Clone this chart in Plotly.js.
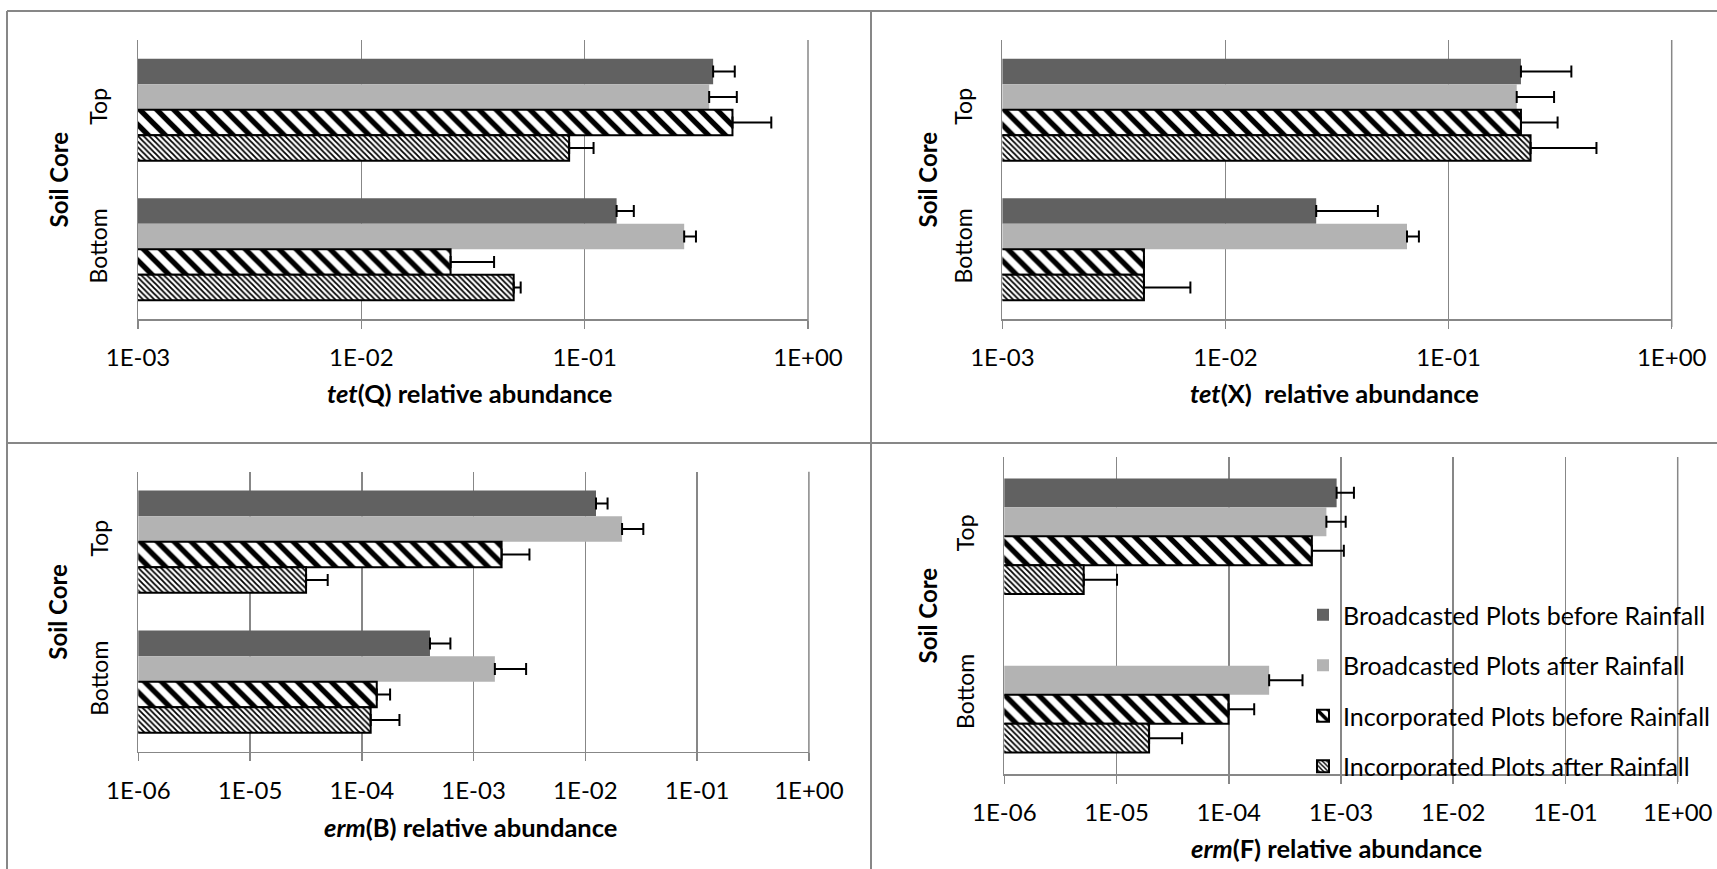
<!DOCTYPE html>
<html>
<head>
<meta charset="utf-8">
<script src="https://cdn.plot.ly/plotly-3.0.1.min.js"></script>
<style>
  html, body { margin: 0; padding: 0; background: #ffffff; }
  #chart { width: 1717px; height: 869px; }
</style>
</head>
<body>
<div id="chart"></div>
<script>
// ---------------- DATA ----------------
const categories = ['Top', 'Bottom'];
const seriesNames = [
  'Broadcasted Plots before Rainfall',
  'Broadcasted Plots after Rainfall',
  'Incorporated Plots before Rainfall',
  'Incorporated Plots after Rainfall'
];

// tet(Q)
const tetQ_BB = [0.376, 0.139];   const tetQ_BB_err = [0.094, 0.027];
const tetQ_BA = [0.361, 0.279];   const tetQ_BA_err = [0.119, 0.036];
const tetQ_IB = [0.459, 0.0251];  const tetQ_IB_err = [0.226, 0.0142];
const tetQ_IA = [0.0852, 0.0481]; const tetQ_IA_err = [0.0244, 0.0036];

// tet(X)
const tetX_BB = [0.211, 0.0255];  const tetX_BB_err = [0.144, 0.0227];
const tetX_BA = [0.202, 0.0651];  const tetX_BA_err = [0.095, 0.0085];
const tetX_IB = [0.211, 0.00431]; const tetX_IB_err = [0.097, 0];
const tetX_IA = [0.233, 0.00431]; const tetX_IA_err = [0.227, 0.00265];

// erm(B)
const ermB_BB = [0.01245, 0.000407]; const ermB_BB_err = [0.00335, 0.000213];
const ermB_BA = [0.0213, 0.00155];   const ermB_BA_err = [0.0117, 0.0014];
const ermB_IB = [0.00178, 0.000136]; const ermB_IB_err = [0.00138, 0.000043];
const ermB_IA = [0.0000317, 0.00012]; const ermB_IA_err = [0.0000178, 0.000097];

// erm(F)
const ermF_BB = [0.000914, null];     const ermF_BB_err = [0.00039, null];
const ermF_BA = [0.000741, 0.000229]; const ermF_BA_err = [0.00036, 0.000225];
const ermF_IB = [0.00055, 0.0000995]; const ermF_IB_err = [0.00051, 0.000069];
const ermF_IA = [0.0000051, 0.0000195]; const ermF_IA_err = [0.000005, 0.0000189];

const tickVals3 = [1e-3, 1e-2, 1e-1, 1];
const tickText3 = ['1E-03', '1E-02', '1E-01', '1E+00'];
const tickVals6 = [1e-6, 1e-5, 1e-4, 1e-3, 1e-2, 1e-1, 1];
const tickText6 = ['1E-06', '1E-05', '1E-04', '1E-03', '1E-02', '1E-01', '1E+00'];

const axisTitles = [
  '<b><i>tet</i>(Q) relative abundance</b>',
  '<b><i>tet</i>(X)  relative abundance</b>',
  '<b><i>erm</i>(B) relative abundance</b>',
  '<b><i>erm</i>(F) relative abundance</b>'
];
const yTitle = '<b>Soil Core</b>';

// ---------------- LAYOUT HELPERS ----------------
const W = 1717, H = 869;
const FONT = 'Lato, "Open Sans", sans-serif';
const GRID = '#878787';
const px = p => p / W;
const py = p => 1 - p / H;

const panels = [
  { series: [[tetQ_BB, tetQ_BB_err], [tetQ_BA, tetQ_BA_err], [tetQ_IB, tetQ_IB_err], [tetQ_IA, tetQ_IA_err]],
    box: { l: 138, r: 808, t: 40, b: 319 }, range: [-3, 0], tv: tickVals3, tt: tickText3,
    title: axisTitles[0], tx: 470, ty: 393, sx: 58 },
  { series: [[tetX_BB, tetX_BB_err], [tetX_BA, tetX_BA_err], [tetX_IB, tetX_IB_err], [tetX_IA, tetX_IA_err]],
    box: { l: 1002.4, r: 1671.7, t: 40, b: 319 }, range: [-3, 0], tv: tickVals3, tt: tickText3,
    title: axisTitles[1], tx: 1334, ty: 393, sx: 927 },
  { series: [[ermB_BB, ermB_BB_err], [ermB_BA, ermB_BA_err], [ermB_IB, ermB_IB_err], [ermB_IA, ermB_IA_err]],
    box: { l: 138.3, r: 808.9, t: 471.7, b: 751.7 }, range: [-6, 0], tv: tickVals6, tt: tickText6,
    title: axisTitles[2], tx: 470, ty: 827, sx: 58 },
  { series: [[ermF_BB, ermF_BB_err], [ermF_BA, ermF_BA_err], [ermF_IB, ermF_IB_err], [ermF_IA, ermF_IA_err]],
    box: { l: 1004.3, r: 1677.7, t: 457, b: 774 }, range: [-6, 0], tv: tickVals6, tt: tickText6,
    title: axisTitles[3], tx: 1336, ty: 848, sx: 927 }
];

const styles = [
  { color: '#616161', line: { width: 0 } },
  { color: '#b3b3b3', line: { width: 0 } },
  { color: '#ffffff', line: { width: 2, color: '#000000' },
    pattern: { shape: '\\', size: 12, solidity: 0.45, fgcolor: '#000000', bgcolor: '#ffffff', fillmode: 'replace' } },
  { color: '#ffffff', line: { width: 2, color: '#000000' },
    pattern: { shape: '\\', size: 4, solidity: 0.45, fgcolor: '#000000', bgcolor: '#ffffff', fillmode: 'replace' } }
];

const traces = [];
const layout = {
  width: W, height: H,
  margin: { l: 0, r: 0, t: 0, b: 0, pad: 0, autoexpand: false },
  paper_bgcolor: '#ffffff', plot_bgcolor: '#ffffff',
  font: { family: FONT, size: 24, color: '#000000' },
  barmode: 'group', bargap: 0.27, bargroupgap: 0,
  showlegend: true,
  legend: {
    x: px(1303), y: py(592), xanchor: 'left', yanchor: 'top',
    font: { family: FONT, size: 25, color: '#000000' },
    bgcolor: 'rgba(0,0,0,0)', borderwidth: 0,
    traceorder: 'grouped', tracegroupgap: 15
  },
  annotations: [], shapes: []
};

panels.forEach((p, i) => {
  const n = i + 1;
  const xa = 'x' + (n === 1 ? '' : n), ya = 'y' + (n === 1 ? '' : n);
  p.series.forEach((s, k) => {
    traces.push({
      type: 'bar', orientation: 'h',
      name: seriesNames[k], legendgroup: 'g' + k,
      showlegend: i === 3,
      y: categories, x: s[0],
      xaxis: xa, yaxis: ya,
      marker: styles[k],
      error_x: { type: 'data', symmetric: false, array: s[1], arrayminus: s[1].map(() => 0),
                 color: '#000000', thickness: 2, width: 6 },
      hoverinfo: 'x+name'
    });
  });
  const b = p.box;
  layout['xaxis' + (n === 1 ? '' : n)] = {
    type: 'log', range: p.range, domain: [px(b.l), px(b.r)], anchor: ya,
    tickmode: 'array', tickvals: p.tv, ticktext: p.tt,
    showgrid: true, gridcolor: GRID, gridwidth: 1.5,
    showline: true, linecolor: GRID, linewidth: 1.5,
    ticks: 'outside', ticklen: 8, tickcolor: GRID, tickwidth: 1.5,
    ticklabelstandoff: 9,
    tickfont: { family: FONT, size: 24, color: '#000000' },
    zeroline: false, fixedrange: true, automargin: false
  };
  layout['yaxis' + (n === 1 ? '' : n)] = {
    type: 'category', categoryorder: 'array', categoryarray: categories,
    autorange: 'reversed', domain: [py(b.b), py(b.t)], anchor: xa,
    showgrid: false, showline: true, linecolor: GRID, linewidth: 1.5,
    ticks: '', tickangle: -90, ticklabelstandoff: 20,
    tickfont: { family: FONT, size: 23, color: '#000000' },
    zeroline: false, fixedrange: true, automargin: false
  };
  layout.annotations.push({
    xref: 'paper', yref: 'paper', x: px(p.tx), y: py(p.ty),
    xanchor: 'center', yanchor: 'middle', showarrow: false,
    text: p.title, font: { family: FONT, size: 25.5, color: '#000000' }
  });
  layout.annotations.push({
    xref: 'paper', yref: 'paper', x: px(p.sx), y: py((b.t + b.b) / 2),
    xanchor: 'center', yanchor: 'middle', showarrow: false, textangle: -90,
    text: yTitle, font: { family: FONT, size: 24, color: '#000000' }
  });
  // right-end gridline (1E+00)
  layout.shapes.push({
    type: 'line', xref: 'paper', yref: 'paper',
    x0: px(b.r), x1: px(b.r), y0: py(b.b + 8), y1: py(b.t),
    line: { color: GRID, width: 1.5 }, layer: 'below'
  });
});

// figure frame lines
const frame = [
  [7, 11, 1717, 11], [7, 11, 7, 869], [871, 11, 871, 869], [7, 443, 1717, 443]
];
frame.forEach(f => layout.shapes.push({
  type: 'line', xref: 'paper', yref: 'paper',
  x0: px(f[0]), y0: py(f[1]), x1: px(f[2]), y1: py(f[3]),
  line: { color: GRID, width: 2 }
}));

Plotly.newPlot('chart', traces, layout, { staticPlot: true, displayModeBar: false });
</script>
</body>
</html>
